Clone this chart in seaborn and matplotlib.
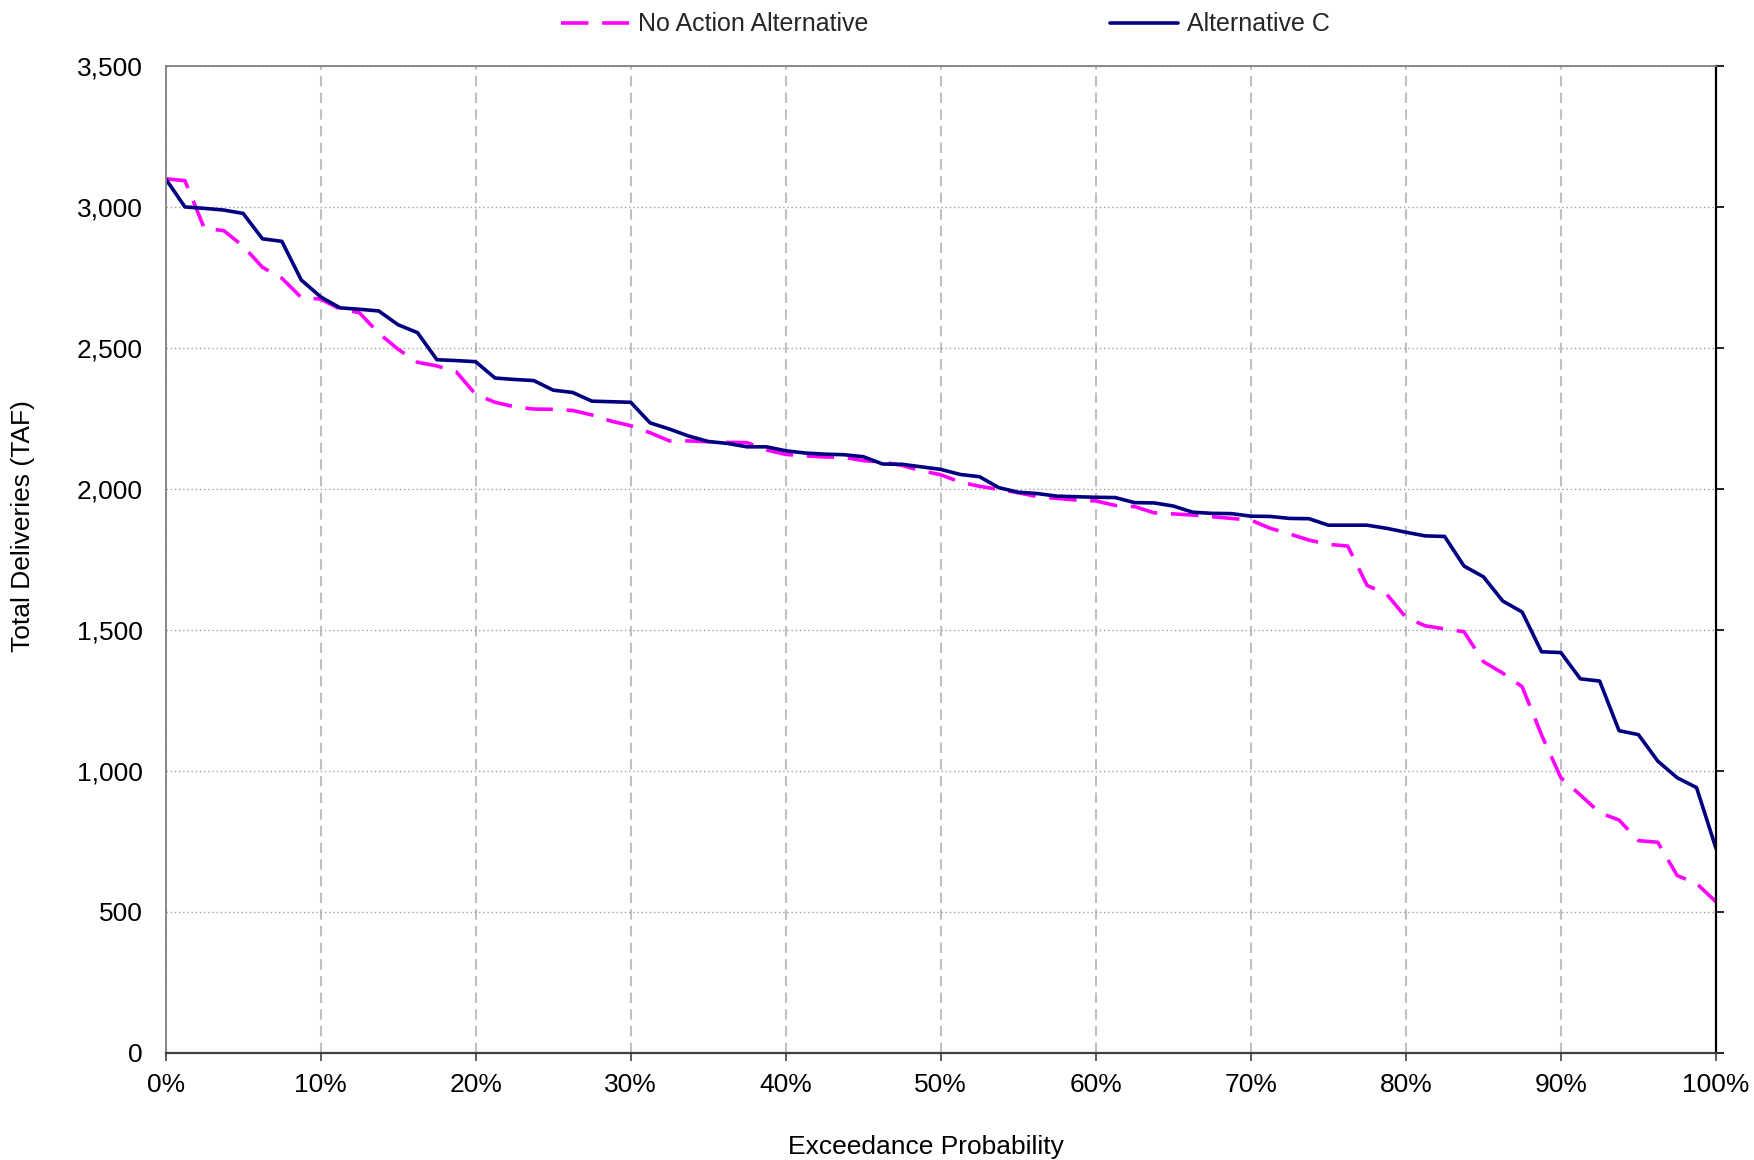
import numpy as np
import pandas as pd
import matplotlib
matplotlib.use("Agg")
import matplotlib.pyplot as plt
from matplotlib.ticker import PercentFormatter, FuncFormatter, MultipleLocator
import seaborn as sns

# Exceedance probability (%) for each sorted value
exceedance_pct = [0, 1.25, 2.5, 3.75, 5, 6.25, 7.5, 8.75, 10, 11.25,
                  12.5, 13.75, 15, 16.25, 17.5, 18.75, 20, 21.25, 22.5, 23.75,
                  25, 26.25, 27.5, 28.75, 30, 31.25, 32.5, 33.75, 35, 36.25,
                  37.5, 38.75, 40, 41.25, 42.5, 43.75, 45, 46.25, 47.5, 48.75,
                  50, 51.25, 52.5, 53.75, 55, 56.25, 57.5, 58.75, 60, 61.25,
                  62.5, 63.75, 65, 66.25, 67.5, 68.75, 70, 71.25, 72.5, 73.75,
                  75, 76.25, 77.5, 78.75, 80, 81.25, 82.5, 83.75, 85, 86.25,
                  87.5, 88.75, 90, 91.25, 92.5, 93.75, 95, 96.25, 97.5, 98.75, 100]

no_action = [3100, 3093, 2924, 2916, 2861, 2786, 2747, 2679, 2673, 2638,
             2625, 2552, 2495, 2449, 2436, 2415, 2335, 2307, 2291, 2283,
             2282, 2278, 2262, 2240, 2224, 2199, 2170, 2170, 2167, 2165,
             2164, 2138, 2122, 2117, 2113, 2112, 2100, 2095, 2083, 2064,
             2050, 2024, 2009, 1998, 1986, 1972, 1966, 1960, 1957, 1941,
             1937, 1915, 1911, 1907, 1901, 1895, 1889, 1860, 1840, 1818,
             1803, 1797, 1657, 1627, 1544, 1514, 1503, 1493, 1387, 1346,
             1298, 1127, 975, 914, 851, 825, 752, 746, 628, 600, 535]

alt_c = [3100, 3000, 2995, 2989, 2977, 2887, 2878, 2741, 2681, 2642,
         2637, 2631, 2582, 2554, 2458, 2455, 2451, 2393, 2388, 2384,
         2350, 2342, 2311, 2309, 2307, 2234, 2212, 2187, 2168, 2161,
         2149, 2149, 2135, 2127, 2123, 2121, 2114, 2088, 2087, 2078,
         2069, 2051, 2043, 2004, 1988, 1983, 1974, 1972, 1970, 1969,
         1951, 1950, 1939, 1917, 1913, 1912, 1903, 1902, 1895, 1894,
         1871, 1871, 1871, 1860, 1846, 1833, 1831, 1726, 1688, 1602,
         1563, 1422, 1419, 1326, 1318, 1142, 1128, 1034, 975, 940, 725]

series_names = ["No Action Alternative", "Alternative C"]
series_colors = {"No Action Alternative": "#FF00FF", "Alternative C": "#000080"}

x_frac = np.array(exceedance_pct) / 100.0
df = pd.concat([
    pd.DataFrame({"p": x_frac, "v": no_action, "Scenario": series_names[0]}),
    pd.DataFrame({"p": x_frac, "v": alt_c, "Scenario": series_names[1]}),
], ignore_index=True)

sns.set_style("white")
plt.rcParams["font.family"] = ["Liberation Sans", "DejaVu Sans"]

fig = plt.figure(figsize=(17.54, 11.6), dpi=100)
ax = fig.add_axes([0.0944, 0.0926, 0.9783 - 0.0944, 0.9431 - 0.0926])

sns.lineplot(data=df, x="p", y="v", hue="Scenario", style="Scenario",
             hue_order=series_names, style_order=series_names,
             palette=series_colors,
             dashes={"No Action Alternative": (7.6, 3.8), "Alternative C": ""},
             linewidth=2.6, sort=False, ax=ax, legend=True)

ax.set_xlim(0, 1)
ax.set_ylim(0, 3500)
ax.xaxis.set_major_locator(MultipleLocator(0.1))
ax.yaxis.set_major_locator(MultipleLocator(500))
ax.xaxis.set_major_formatter(PercentFormatter(1.0, decimals=0))
ax.yaxis.set_major_formatter(FuncFormatter(lambda v, p: f"{int(v):,}"))

ax.set_axisbelow(True)
ax.grid(axis="x", color="#c0c0c0", linestyle=(0, (5, 3)), linewidth=1.5)
ax.grid(axis="y", color="#a0a0a0", linestyle=(0, (1, 2)), linewidth=1.0)

for side, col, lw in [("left", "#808080", 1.3), ("top", "#808080", 1.3),
                      ("bottom", "#404040", 1.6), ("right", "black", 1.6)]:
    ax.spines[side].set_visible(True)
    ax.spines[side].set_color(col)
    ax.spines[side].set_linewidth(lw)

ax.tick_params(axis="y", left=False, right=True, labelleft=True, labelright=False,
               direction="out", length=5.5, width=1.2, color="black", pad=10.8,
               labelsize=19, labelcolor="black")
ax.tick_params(axis="x", bottom=True, top=False, direction="out", length=5.8,
               width=1.2, color="#404040", pad=9.0, labelsize=19, labelcolor="black")

ax.set_xlabel("Exceedance Probability", fontsize=19, color="black")
ax.set_ylabel("Total Deliveries (TAF)", fontsize=19, color="black")
ax.xaxis.set_label_coords(0.4905, -0.084)
ax.yaxis.set_label_coords(-0.0845, 0.534)

handles, labels = ax.get_legend_handles_labels()
if ax.get_legend() is not None:
    ax.get_legend().remove()
fig.legend(handles, labels, loc="center", bbox_to_anchor=(0.539, 0.979), ncol=2,
           frameon=False, fontsize=18, handlelength=2.7, handletextpad=0.36,
           columnspacing=9.7)

fig.savefig("out.png", dpi=100)
